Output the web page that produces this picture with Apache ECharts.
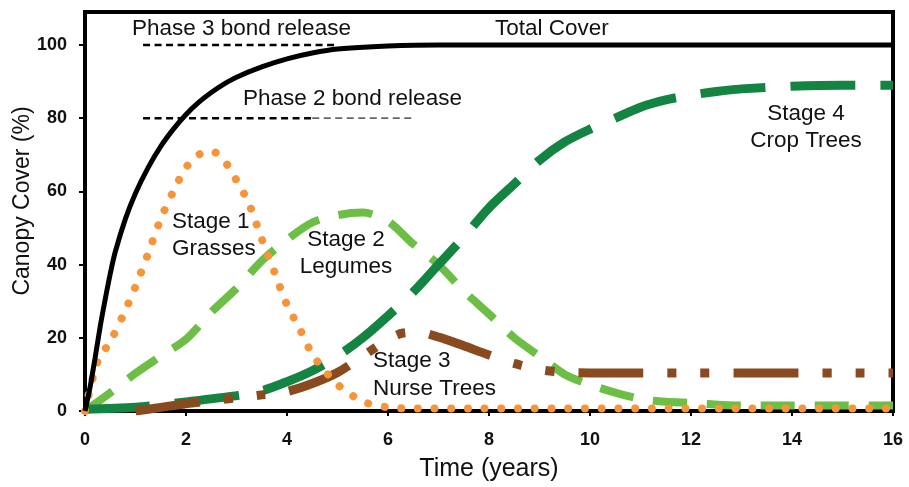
<!DOCTYPE html>
<html><head><meta charset="utf-8">
<script src="https://cdn.jsdelivr.net/npm/echarts@6/dist/echarts.min.js"></script>
<style>html,body{margin:0;padding:0;background:#fff}#c{width:909px;height:487px}</style>
</head><body><div id="c"></div>
<script>
// ---- data ----
const xTicks = [0,2,4,6,8,10,12,14,16];
const yTicks = [0,20,40,60,80,100];

const totalX = [0,0.1,0.2,0.3,0.4,0.5,0.6,0.8,1.0,1.25,1.5,1.75,2,2.25,2.5,2.75,3,3.5,4,4.5,5,6,7,16];
const totalY = [0,6.5,14.5,23,30.5,37.5,43.5,52.5,59.5,66.5,72.3,77,81,84.3,87,89.3,91.2,94,96.2,97.8,98.9,99.7,100,100];

const grassX = [0,0.25,0.5,0.75,1,1.25,1.5,1.75,2,2.25,2.5,2.75,3,3.25,3.5,3.75,4,4.25,4.5,4.75,5,5.5,6,6.5,16];
const grassY = [0,13.5,19,26,34,43,52.5,60,66.5,70,71,68.5,63,56.5,47,38,29,22.5,15.5,11,7.2,2.6,1,0.7,0.7];

const legumeX = [0,0.5,1,1.5,2,2.5,3,3.5,4,4.5,5,5.5,6,6.5,7,7.5,8,8.5,9,9.5,10,10.5,11,11.5,12,13,14,15,16];
const legumeY = [0,5,10.3,15,19.6,27,33.5,41,46.8,51.5,53.5,54.2,51.8,45.6,40,32.8,26.5,20,15,10,7.2,5,3.3,2.5,2.2,1.5,1.5,1.5,1.5];

const nurseX = [1,1.5,2,2.5,3,3.5,4,4.5,5,5.5,6,6.3,6.6,7,7.5,8,8.5,9,9.5,10,16];
const nurseY = [0,1,2,2.8,3.6,4.4,5.3,7.5,10.5,15,19.5,21.3,21.5,20.2,17.8,15.3,13,11.3,10.6,10.4,10.4];

const cropX = [0,1,2,3,3.5,4,4.5,5,5.5,6,6.5,7,7.5,8,8.5,9,9.5,10,10.5,11,11.5,12,12.5,13,14,15,16];
const cropY = [0.5,1,2.5,4.2,5.5,8,11,15,20,26,32.5,40,47.5,55.5,62,68.5,73.5,77,80,83,85,86.3,87.3,88,88.7,89,89];

const phase3X = [1.15,5.0], phase3Y = [100,100];
const phase2X = [1.15,4.5], phase2Y = [80,80];
const phase2bX = [4.5,6.55], phase2bY = [80,80];

const pairs = (xs, ys) => xs.map((x,i)=>[x, ys[i]]);
const FONT = 'Liberation Sans, Arial, sans-serif';

const chart = echarts.init(document.getElementById('c'));
const txt = (t, x, y, align, size, rot) => ({type:'text', x:x, y:y, z:100, rotation:rot||0,
  style:{text:t, fill:'#111', font:(size||22.5)+'px ' + FONT, textAlign:align||'left', textVerticalAlign:'middle'}});

chart.setOption({
  animation:false,
  backgroundColor:'#fff',
  grid:{left:85, right:16, top:12, bottom:76, show:true, borderColor:'#000', borderWidth:4},
  xAxis:{type:'value', min:0, max:16, interval:2,
    name:'Time (years)', nameLocation:'middle', nameGap:46,
    nameTextStyle:{fontFamily:FONT, fontSize:25, color:'#111'},
    axisLine:{show:true, onZero:false, lineStyle:{color:'#000', width:4}},
    axisTick:{show:true, length:5, lineStyle:{color:'#000', width:2}},
    axisLabel:{fontFamily:FONT, fontSize:18, fontWeight:'bold', color:'#111', margin:20,
      formatter:v=>xTicks.includes(v)?String(v):''},
    splitLine:{show:false}},
  yAxis:{type:'value', min:0, max:109, interval:20,
    axisLine:{show:true, lineStyle:{color:'#000', width:4}},
    axisTick:{show:true, length:6, lineStyle:{color:'#000', width:2}},
    axisLabel:{fontFamily:FONT, fontSize:18, fontWeight:'bold', color:'#111', margin:18, showMaxLabel:false,
      formatter:v=>yTicks.includes(v)?String(v):''},
    splitLine:{show:false}},
  series:[
    {name:'Stage 2 Legumes', type:'line', data:pairs(legumeX, legumeY), smooth:0.3, symbol:'none', z:2,
      lineStyle:{color:'#6DBE45', width:8, type:[34,20], cap:'butt'}},
    {name:'Stage 4 Crop Trees', type:'line', data:pairs(cropX, cropY), smooth:0.3, symbol:'none', z:3,
      lineStyle:{color:'#138441', width:9, type:[65,25], cap:'butt'}},
    {name:'Stage 3 Nurse Trees', type:'line', data:pairs(nurseX, nurseY), smooth:0.3, symbol:'none', z:4,
      lineStyle:{color:'#8A4A1F', width:9, type:[65,24,9,24,9,24], cap:'butt'}},
    {name:'Stage 1 Grasses', type:'line', data:pairs(grassX, grassY), smooth:0.3, symbol:'none', z:5,
      lineStyle:{color:'#F7943A', width:8, type:[0.01,16.7], cap:'round'}},
    {name:'Phase 3', type:'line', data:pairs(phase3X, phase3Y), symbol:'none', z:6,
      lineStyle:{color:'#000', width:2.5, type:[7,4.5]}},
    {name:'Phase 2', type:'line', data:pairs(phase2X, phase2Y), symbol:'none', z:6,
      lineStyle:{color:'#000', width:2.5, type:[7,4.5]}},
    {name:'Phase 2b', type:'line', data:pairs(phase2bX, phase2bY), symbol:'none', z:6,
      lineStyle:{color:'#666', width:1.8, type:[7,4.5]}},
    {name:'Total Cover', type:'line', data:pairs(totalX, totalY), smooth:0.3, symbol:'none', z:7,
      lineStyle:{color:'#000', width:5}}
  ],
  graphic:[
    txt('Canopy Cover (%)', 23, 201, 'center', 23, Math.PI/2),
    txt('Phase 3 bond release', 132, 29),
    txt('Total Cover', 495, 29),
    txt('Phase 2 bond release', 243, 99),
    txt('Stage 4', 806, 114, 'center'),
    txt('Crop Trees', 806, 141, 'center'),
    txt('Stage 1', 172, 222),
    txt('Grasses', 172, 249),
    txt('Stage 2', 346, 240, 'center'),
    txt('Legumes', 346, 267, 'center'),
    txt('Stage 3', 373, 361),
    txt('Nurse Trees', 373, 389)
  ]
});
</script></body></html>
